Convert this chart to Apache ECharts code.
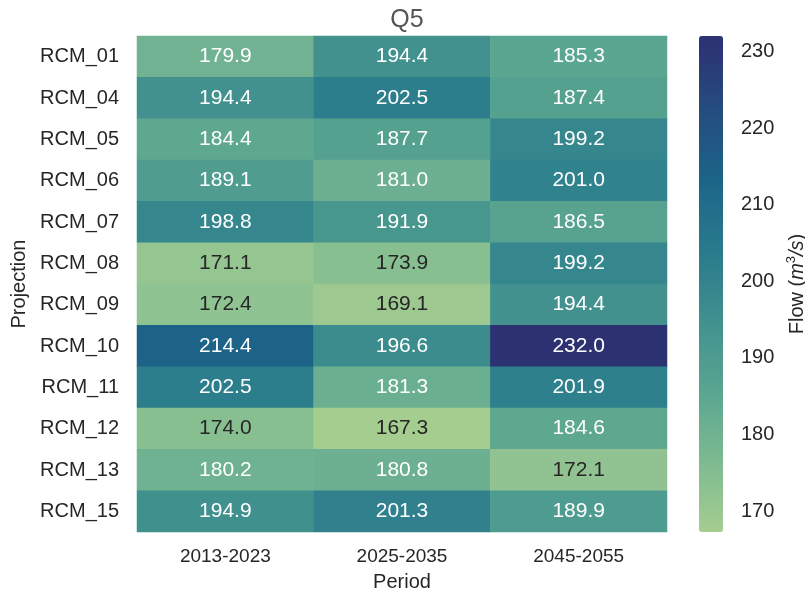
<!DOCTYPE html>
<html>
<head>
<meta charset="utf-8">
<script src="https://cdn.jsdelivr.net/npm/echarts@6/dist/echarts.min.js"></script>
<style>
  html, body { margin: 0; padding: 0; background: #fff; }
  #main { width: 805px; height: 596px; }
</style>
</head>
<body>
<div id="main"></div>
<script>
// data -------------
var periods = ['2013-2023', '2025-2035', '2045-2055'];
var projections = ['RCM_01', 'RCM_04', 'RCM_05', 'RCM_06', 'RCM_07', 'RCM_08',
    'RCM_09', 'RCM_10', 'RCM_11', 'RCM_12', 'RCM_13', 'RCM_15'];
var p2013 = [179.9, 194.4, 184.4, 189.1, 198.8, 171.1, 172.4, 214.4, 202.5, 174.0, 180.2, 194.9];
var p2025 = [194.4, 202.5, 187.7, 181.0, 191.9, 173.9, 169.1, 196.6, 181.3, 167.3, 180.8, 201.3];
var p2045 = [185.3, 187.4, 199.2, 201.0, 186.5, 199.2, 194.4, 232.0, 201.9, 184.6, 172.1, 189.9];
var barTicks = [170, 180, 190, 200, 210, 220, 230];

var vMin = 167.3, vMax = 232.0;
// seaborn crest
var crest = ['#a5cd90', '#7dba91', '#59a590', '#40908e', '#287a8c', '#1c6488', '#254b7f', '#2c3172'];

var cols = [p2013, p2025, p2045];
var cells = [];
cols.forEach(function (arr, ci) {
    arr.forEach(function (v, ri) {
        cells.push({
            value: [ci, ri, v],
            label: {color: v < 177 ? '#262626' : '#ffffff'}
        });
    });
});

var myChart = echarts.init(document.getElementById('main'));

var option = {
    backgroundColor: '#fff',
    animation: false,
    textStyle: {fontFamily: 'Liberation Sans, Arial, sans-serif'},
    title: {
        text: 'Q5',
        left: 402,
        textAlign: 'center',
        top: 3,
        textStyle: {fontSize: 25, fontWeight: 'normal', color: '#555'}
    },
    grid: [
        {left: 137, right: 138, top: 36, bottom: 64, outerBoundsMode: 'none'},
        {left: 699, width: 24, top: 36, height: 496, outerBoundsMode: 'none'}
    ],
    xAxis: [
        {
            type: 'category',
            data: periods,
            gridIndex: 0,
            axisLine: {show: false},
            axisTick: {show: false},
            splitLine: {show: false},
            axisLabel: {fontSize: 19, color: '#262626', margin: 15},
            name: 'Period',
            nameLocation: 'middle',
            nameGap: 40,
            nameTextStyle: {fontSize: 20, color: '#262626'}
        },
        {type: 'value', gridIndex: 1, show: false, min: 0, max: 1}
    ],
    yAxis: [
        {
            type: 'category',
            data: projections,
            inverse: true,
            gridIndex: 0,
            axisLine: {show: false},
            axisTick: {show: false},
            splitLine: {show: false},
            axisLabel: {fontSize: 20, color: '#262626', margin: 18},
            name: 'Projection',
            nameLocation: 'middle',
            nameGap: 105,
            nameRotate: 90,
            nameTextStyle: {fontSize: 20, color: '#262626'}
        },
        {
            type: 'value',
            gridIndex: 1,
            position: 'right',
            min: vMin,
            max: vMax,
            axisLine: {show: false},
            splitLine: {show: false},
            axisTick: {show: true, length: 8, customValues: barTicks,
                lineStyle: {color: '#262626', width: 1.5}},
            axisLabel: {fontSize: 20, color: '#262626', margin: 18, customValues: barTicks},
            name: '{n|Flow (}{i|m}{s|3}{i|/s}{n|)}',
            nameLocation: 'middle',
            nameGap: 62,
            nameRotate: 90,
            nameTextStyle: {
                fontSize: 20, color: '#262626',
                rich: {
                    n: {fontSize: 20, color: '#262626', lineHeight: 24},
                    i: {fontSize: 20, color: '#262626', fontStyle: 'italic', lineHeight: 24},
                    s: {fontSize: 13, color: '#262626', verticalAlign: 'top', lineHeight: 14}
                }
            }
        }
    ],
    visualMap: {
        type: 'continuous',
        min: vMin,
        max: vMax,
        calculable: false,
        seriesIndex: 0,
        left: 699,
        top: 36,
        padding: 0,
        itemWidth: 24,
        itemHeight: 496,
        text: null,
        showLabel: false,
        inRange: {color: crest}
    },
    series: [
        {
            type: 'heatmap',
            xAxisIndex: 0,
            yAxisIndex: 0,
            data: cells,
            label: {
                show: true,
                fontSize: 21,
                formatter: function (p) { return p.value[2].toFixed(1); }
            },
            itemStyle: {borderWidth: 0},
            emphasis: {disabled: true}
        }
    ]
};

myChart.setOption(option);

window.onresize = function () {
    myChart.resize();
};
</script>
</body>
</html>
